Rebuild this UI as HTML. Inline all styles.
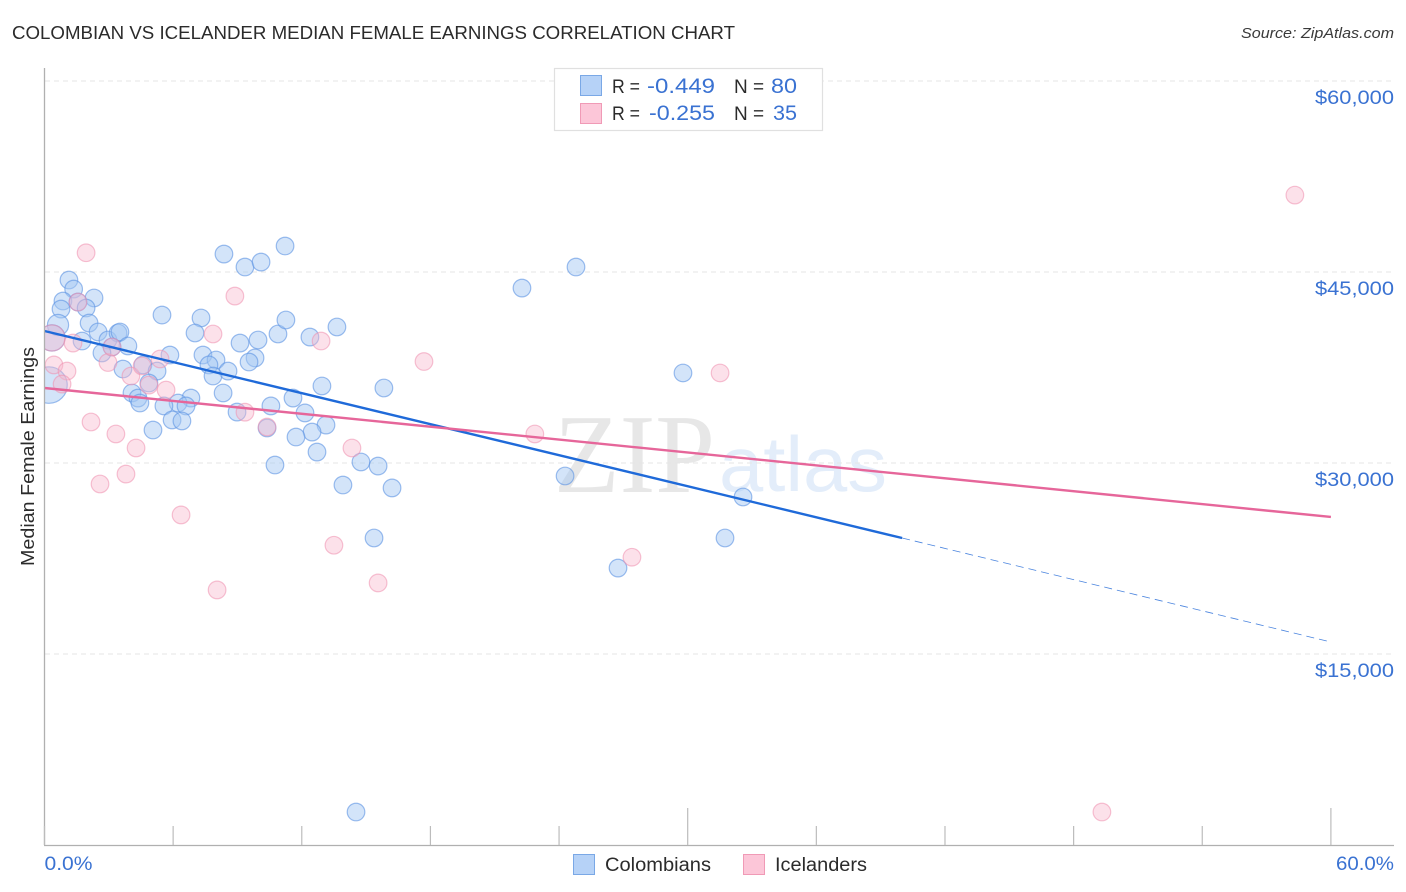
<!DOCTYPE html>
<html lang="en">
<head>
<meta charset="utf-8">
<title>Colombian vs Icelander Median Female Earnings Correlation Chart</title>
<style>
html,body{margin:0;padding:0;background:#fff;width:1406px;height:892px;overflow:hidden}
svg{display:block}
text{font-family:"Liberation Sans",sans-serif}
</style>
</head>
<body>
<svg id="chart" xmlns="http://www.w3.org/2000/svg" width="1406" height="892" viewBox="0 0 1406 892">
  <defs>
    <clipPath id="plot-clip"><rect x="45" y="60" width="1349" height="785"/></clipPath>
  </defs>
  <rect x="0" y="0" width="1406" height="892" fill="#fff"/>
  <text x="12" y="39" font-size="18.5" fill="#2b2b2b" textLength="723" lengthAdjust="spacingAndGlyphs">COLOMBIAN VS ICELANDER MEDIAN FEMALE EARNINGS CORRELATION CHART</text>
  <text x="1394" y="38" font-size="15" font-style="italic" fill="#3a3a3a" text-anchor="end" textLength="153" lengthAdjust="spacingAndGlyphs">Source: ZipAtlas.com</text>

  <g>
    <text x="554" y="492" font-size="112" fill="#e7e7e7" style="font-family:'Liberation Serif',serif" textLength="161" lengthAdjust="spacingAndGlyphs">ZIP</text>
    <text x="719" y="491" font-size="78" fill="#e3edfa" textLength="168" lengthAdjust="spacingAndGlyphs">atlas</text>
  </g>

  <g id="grid"></g>
  <g id="points-colombians" clip-path="url(#plot-clip)"></g>
  <g id="points-icelanders" clip-path="url(#plot-clip)"></g>
  <g id="trends"></g>
  <g id="axes"></g>
  <g id="labels"></g>

  <text transform="translate(34 456.5) rotate(-90)" font-size="18.5" fill="#2b2b2b" text-anchor="middle" textLength="219" lengthAdjust="spacingAndGlyphs">Median Female Earnings</text>

  <g>
    <rect x="554.5" y="68.5" width="268" height="62" fill="#fff" stroke="#e0e0e0" stroke-width="1.2"/>
    <rect x="580.5" y="75.5" width="21" height="20" fill="#b6d2f7" stroke="#7aa8e6"/>
    <rect x="580.5" y="103.5" width="21" height="20" fill="#fcc6d8" stroke="#f09ab6"/>
    <text x="612" y="93" font-size="19" fill="#2b2b2b" textLength="28" lengthAdjust="spacingAndGlyphs">R =</text>
    <text x="647" y="93" font-size="21" fill="#3a72d2" textLength="68" lengthAdjust="spacingAndGlyphs">-0.449</text>
    <text x="734" y="93" font-size="19" fill="#2b2b2b">N =</text>
    <text x="771" y="93" font-size="21" fill="#3a72d2" textLength="26" lengthAdjust="spacingAndGlyphs">80</text>
    <text x="612" y="120" font-size="19" fill="#2b2b2b" textLength="28" lengthAdjust="spacingAndGlyphs">R =</text>
    <text x="649" y="120" font-size="21" fill="#3a72d2" textLength="66" lengthAdjust="spacingAndGlyphs">-0.255</text>
    <text x="734" y="120" font-size="19" fill="#2b2b2b">N =</text>
    <text x="773" y="120" font-size="21" fill="#3a72d2" textLength="24" lengthAdjust="spacingAndGlyphs">35</text>
  </g>

  <g>
    <rect x="573.5" y="854.5" width="21" height="20" fill="#b6d2f7" stroke="#7aa8e6"/>
    <text x="605" y="871" font-size="19" fill="#2b2b2b" textLength="106" lengthAdjust="spacingAndGlyphs">Colombians</text>
    <rect x="743.5" y="854.5" width="21" height="20" fill="#fcc6d8" stroke="#f09ab6"/>
    <text x="775" y="871" font-size="19" fill="#2b2b2b" textLength="92" lengthAdjust="spacingAndGlyphs">Icelanders</text>
  </g>
</svg>
<script>
// Chart data (x = percent Icelanders/Colombians share, y = median female earnings in dollars)
const colombianShare = [1.14,1.36,0.86,2.31,1.56,1.94,0.77,0.63,0.35,0.21,2.08,2.50,1.75,2.96,3.43,3.52,3.89,3.15,2.68,5.85,3.66,4.59,5.25,4.87,4.08,4.36,4.45,6.83,6.23,6.60,5.57,5.95,6.41,5.06,5.48,7.30,7.02,7.39,8.00,7.67,8.56,7.86,8.33,8.98,10.56,11.59,12.15,13.13,12.48,11.73,10.38,12.71,10.75,13.92,12.94,9.12,9.96,10.89,11.26,12.38,13.64,9.82,9.54,8.37,9.35,10.10,11.22,15.83,22.27,24.79,14.76,15.56,16.21,15.37,24.28,29.78,32.58,31.74,26.75,14.53];
const colombianEarnings = [44370,43660,42720,42960,42640,42170,42090,40840,39820,36120,40990,40290,39580,39660,40210,40290,39190,39110,38640,38480,37380,37700,37220,36280,35500,35100,34710,35100,34710,34480,34480,33380,33300,32590,41620,41390,40210,38480,38090,37700,37220,36830,35500,34000,34480,35100,33930,32980,32430,32040,32750,30860,29840,28270,36050,39420,39660,40130,41230,39890,40680,38250,37930,46410,45390,45780,47040,35890,43740,45390,30080,29760,28040,24110,28980,37070,27330,24110,21750,2590];
const colombianWeight = [1,1,1,1,1,1,1,1.45,2.2,4.3,1,1,1,1,1,1,1,1,1,1,1,1,1,1,1,1,1,1,1,1,1,1,1,1,1,1,1,1,1,1,1,1,1,1,1,1,1,1,1,1,1,1,1,1,1,1,1,1,1,1,1,1,1,1,1,1,1,1,1,1,1,1,1,1,1,1,1,1,1,1];

const icelanderShare = [1.94,8.88,1.56,7.86,12.90,17.70,0.35,1.33,0.44,1.05,0.82,2.96,3.15,4.03,4.55,5.39,4.87,5.67,9.35,10.38,2.17,3.33,4.27,3.80,2.59,6.37,14.34,13.50,15.56,8.05,27.40,22.87,31.51,58.32,49.32];
const icelanderEarnings = [46510,43110,42640,40130,39580,37970,39820,39420,37700,37220,36200,37890,39110,36830,37620,38170,36120,35730,33990,32830,33220,32280,31180,29130,28350,25920,31180,23540,20580,20030,22600,32280,37070,51040,2590];
const icelanderWeight = [1,1,1,1,1,1,2.2,1,1,1,1,1,1,1,1,1,1,1,1,1,1,1,1,1,1,1,1,1,1,1,1,1,1,1,1];

const colombianTrendShare = [0,40];
const colombianTrendEarnings = [40365,24110];
const colombianProjectionShare = [40,60];
const colombianProjectionEarnings = [24110,15940];
const icelanderTrendShare = [0,60];
const icelanderTrendEarnings = [35890,25760];

const yTicks = [15000,30000,45000,60000];
const yTickLabels = ["$15,000","$30,000","$45,000","$60,000"];
const xTicks = [0,6,12,18,24,30,36,42,48,54,60];
const xMajorTicks = [30,60];
const xEndLabels = ["0.0%","60.0%"];

// Axis functions
function xScale(share){ return 44.5 + share * 21.44; }
function yScale(value){ return 654 - (value - 15000) * 191 / 15000; }

const NS = "http://www.w3.org/2000/svg";
function make(tag, parentId, attrs){
  const el = document.createElementNS(NS, tag);
  for (const k in attrs) el.setAttribute(k, attrs[k]);
  document.getElementById(parentId).appendChild(el);
  return el;
}

// Gridlines and y tick labels
yTicks.forEach(function(v, i){
  const line = make("line", "grid", {x1:45, x2:1394, y1:yScale(v), y2:yScale(v), stroke:"#e6e6e6", "stroke-width":1, "stroke-dasharray":"5 4"});
  
  
  const label = make("text", "labels", {x:1394, y:yScale(v) + 23, "font-size":19.5, fill:"#3a72d2", "text-anchor":"end", textLength:79, lengthAdjust:"spacingAndGlyphs"});
  label.textContent = yTickLabels[i];
  
  
});

// Axes and ticks
const yAxis = make("line", "axes", {x1:44.5, x2:44.5, y1:68, y2:845, stroke:"#b0b0b0", "stroke-width":1.3});


const xAxis = make("line", "axes", {x1:44, x2:1394, y1:845.5, y2:845.5, stroke:"#b0b0b0", "stroke-width":1.3});


xTicks.forEach(function(t){
  const top = xMajorTicks.indexOf(t) >= 0 ? 808 : 826;
  const tick = make("line", "axes", {x1:xScale(t), x2:xScale(t), y1:top, y2:845, stroke:"#bcbcbc", "stroke-width":1.2});
  
  
});
const xLabelStart = make("text", "labels", {x:xScale(0), y:870, "font-size":19.5, fill:"#3a72d2", textLength:48, lengthAdjust:"spacingAndGlyphs"});
xLabelStart.textContent = xEndLabels[0];


const xLabelEnd = make("text", "labels", {x:1394, y:870, "font-size":19.5, fill:"#3a72d2", "text-anchor":"end", textLength:58, lengthAdjust:"spacingAndGlyphs"});
xLabelEnd.textContent = xEndLabels[1];



// Points
colombianShare.forEach(function(s, i){
  const c = make("circle", "points-colombians", {cx:xScale(s), cy:yScale(colombianEarnings[i]), r:8.8*Math.sqrt(colombianWeight[i]), fill:"#a4c6f3", "fill-opacity":0.48, stroke:"#5b93e2", "stroke-opacity":0.6, "stroke-width":1.2});
  
  
});
icelanderShare.forEach(function(s, i){
  const c = make("circle", "points-icelanders", {cx:xScale(s), cy:yScale(icelanderEarnings[i]), r:8.8*Math.sqrt(icelanderWeight[i]), fill:"#f8b8cc", "fill-opacity":0.42, stroke:"#ee90ae", "stroke-opacity":0.55, "stroke-width":1.2});
  
  
});

// Trend lines
const projection = make("line", "trends", {x1:xScale(colombianProjectionShare[0]), y1:yScale(colombianProjectionEarnings[0]), x2:xScale(colombianProjectionShare[1]), y2:yScale(colombianProjectionEarnings[1]), stroke:"#2a6fd8", "stroke-width":0.8, "stroke-opacity":0.85, "stroke-dasharray":"8 5"});


const blueTrend = make("line", "trends", {x1:xScale(colombianTrendShare[0]), y1:yScale(colombianTrendEarnings[0]), x2:xScale(colombianTrendShare[1]), y2:yScale(colombianTrendEarnings[1]), stroke:"#1f6ad9", "stroke-width":2.4});


const pinkTrend = make("line", "trends", {x1:xScale(icelanderTrendShare[0]), y1:yScale(icelanderTrendEarnings[0]), x2:xScale(icelanderTrendShare[1]), y2:yScale(icelanderTrendEarnings[1]), stroke:"#e6669a", "stroke-width":2.4});


</script>
</body>
</html>
